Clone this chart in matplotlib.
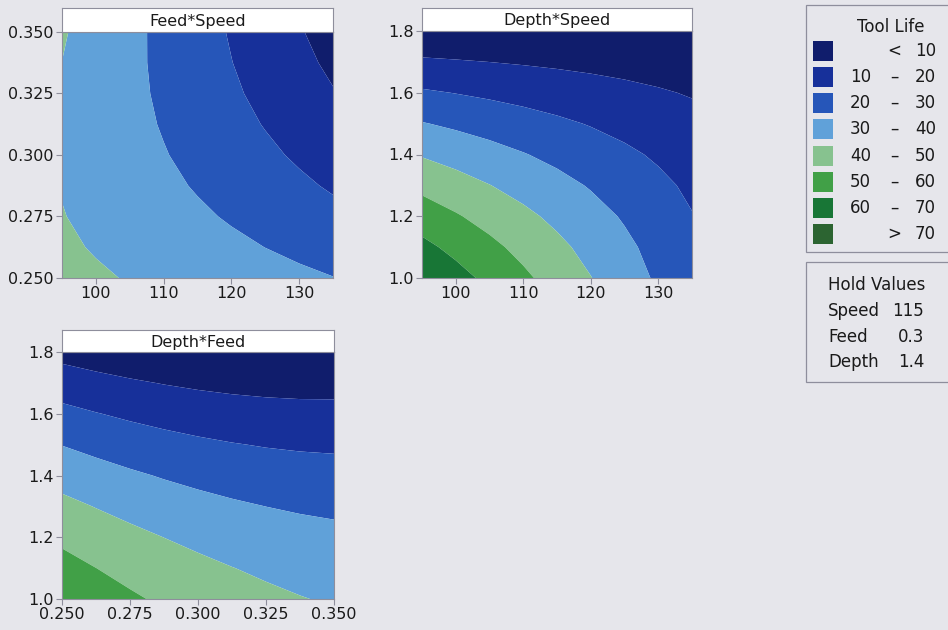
import matplotlib
matplotlib.use("Agg")
import matplotlib.pyplot as plt
from matplotlib.patches import Rectangle

plt.rcParams['font.family'] = ['DejaVu Sans']

# ---------------- data ----------------
speed = [95, 100, 105, 110, 115, 120, 125, 130, 135]
feed = [0.250, 0.2625, 0.275, 0.2875, 0.300, 0.3125, 0.325, 0.3375, 0.350]
depth = [1.0, 1.1, 1.2, 1.3, 1.4, 1.5, 1.6, 1.7, 1.8]

# Tool Life, rows = feed, columns = speed (Depth held at 1.4)
life_feed_speed = [
    [42.60, 41.05, 39.50, 37.95, 36.40, 34.85, 33.30, 31.75, 30.20],
    [41.30, 39.41, 37.52, 35.62, 33.73, 31.83, 29.94, 28.05, 26.15],
    [40.31, 38.08, 35.84, 33.60, 31.36, 29.13, 26.89, 24.65, 22.41],
    [39.63, 37.05, 34.47, 31.88, 29.30, 26.72, 24.14, 21.56, 18.98],
    [39.25, 36.33, 33.40, 30.48, 27.55, 24.63, 21.70, 18.78, 15.85],
    [39.18, 35.91, 32.64, 29.37, 26.10, 22.83, 19.57, 16.30, 13.03],
    [39.41, 35.80, 32.19, 28.57, 24.96, 21.35, 17.74, 14.12, 10.51],
    [39.95, 36.00, 32.04, 28.08, 24.13, 20.17, 16.22, 12.26, 8.30],
    [40.80, 36.50, 32.20, 27.90, 23.60, 19.30, 15.00, 10.70, 6.40],
]

# Tool Life, rows = depth, columns = speed (Feed held at 0.3)
life_depth_speed = [
    [69.25, 63.45, 57.65, 51.85, 46.05, 40.25, 34.45, 28.65, 22.85],
    [62.50, 57.42, 52.34, 47.26, 42.18, 37.09, 32.01, 26.93, 21.85],
    [55.25, 50.89, 46.53, 42.16, 37.80, 33.44, 29.08, 24.71, 20.35],
    [47.50, 43.86, 40.21, 36.57, 32.93, 29.28, 25.64, 21.99, 18.35],
    [39.25, 36.33, 33.40, 30.48, 27.55, 24.63, 21.70, 18.78, 15.85],
    [30.50, 28.29, 26.09, 23.88, 21.68, 19.47, 17.26, 15.06, 12.85],
    [21.25, 19.76, 18.28, 16.79, 15.30, 13.81, 12.33, 10.84, 9.35],
    [11.50, 10.73, 9.96, 9.19, 8.43, 7.66, 6.89, 6.12, 5.35],
    [1.25, 1.20, 1.15, 1.10, 1.05, 1.00, 0.95, 0.90, 0.85],
]

# Tool Life, rows = depth, columns = feed (Speed held at 115)
life_depth_feed = [
    [57.90, 54.48, 51.36, 48.55, 46.05, 43.85, 41.96, 40.38, 39.10],
    [53.28, 50.04, 47.11, 44.49, 42.18, 40.17, 38.46, 37.07, 35.98],
    [48.15, 45.10, 42.36, 39.93, 37.80, 35.98, 34.46, 33.25, 32.35],
    [42.53, 39.67, 37.11, 34.87, 32.93, 31.29, 29.96, 28.94, 28.23],
    [36.40, 33.73, 31.36, 29.30, 27.55, 26.10, 24.96, 24.13, 23.60],
    [29.78, 27.29, 25.11, 23.24, 21.68, 20.42, 19.46, 18.82, 18.48],
    [22.65, 20.35, 18.36, 16.68, 15.30, 14.23, 13.46, 13.00, 12.85],
    [15.03, 12.92, 11.11, 9.62, 8.43, 7.54, 6.96, 6.69, 6.73],
    [6.90, 4.98, 3.36, 2.05, 1.05, 0.35, -0.04, -0.12, 0.10],
]

levels = [-1000, 10, 20, 30, 40, 50, 60, 70, 1000]
band_low = ["", "10", "20", "30", "40", "50", "60", ""]
band_sign = ["<", "\u2013", "\u2013", "\u2013", "\u2013", "\u2013", "\u2013", ">"]
band_high = ["10", "20", "30", "40", "50", "60", "70", "70"]
band_colors = ["#101d6c", "#17309a", "#2656b9", "#60a1d9",
               "#87c28f", "#41a047", "#187636", "#2c6431"]

hold_names = ["Speed", "Feed", "Depth"]
hold_values = ["115", "0.3", "1.4"]

speed_ticks = [100, 110, 120, 130]
feed_ticks = [0.250, 0.275, 0.300, 0.325, 0.350]
depth_ticks = [1.0, 1.2, 1.4, 1.6, 1.8]

# ---------------- figure ----------------
W, H = 948, 630
BG = "#e6e6eb"
EDGE = "#8e8e9c"
TXT = "#1a1a1a"
fig = plt.figure(figsize=(W / 100, H / 100), dpi=100, facecolor=BG)


def add_ax(l, t, r, b):
    return fig.add_axes([l / W, 1 - b / H, (r - l) / W, (b - t) / H])


def panel(l, t, r, b, strip_top, title, x, y, z, xticks, yticks, xfmt, yfmt):
    ax = add_ax(l, t, r, b)
    ax.contourf(x, y, z, levels=levels, colors=band_colors, antialiased=True)
    ax.set_xlim(x[0], x[-1])
    ax.set_ylim(y[0], y[-1])
    ax.set_xticks(xticks)
    ax.set_yticks(yticks)
    ax.set_xticklabels([xfmt.format(v) for v in xticks])
    ax.set_yticklabels([yfmt.format(v) for v in yticks])
    ax.tick_params(direction="out", length=4, width=0.8, color=EDGE,
                   labelsize=11.5, labelcolor=TXT, pad=2)
    for sp in ax.spines.values():
        sp.set_color(EDGE)
        sp.set_linewidth(0.8)
    st = add_ax(l, strip_top, r, t)
    st.set_facecolor("white")
    st.set_xticks([])
    st.set_yticks([])
    for sp in st.spines.values():
        sp.set_color(EDGE)
        sp.set_linewidth(0.8)
    st.text(0.5, 0.45, title, ha="center", va="center", fontsize=11.5,
            color=TXT, transform=st.transAxes)
    return ax


panel(62, 32, 333, 278, 8, "Feed*Speed", speed, feed, life_feed_speed,
      speed_ticks, feed_ticks, "{:d}", "{:.3f}")
panel(422, 31, 692, 278, 8, "Depth*Speed", speed, depth, life_depth_speed,
      speed_ticks, depth_ticks, "{:d}", "{:.1f}")
panel(62, 352, 334, 599, 330, "Depth*Feed", feed, depth, life_depth_feed,
      feed_ticks, depth_ticks, "{:.3f}", "{:.1f}")


def fx(x):
    return x / W


def fy(y):
    return 1 - y / H


LFS = 12
# legend box
fig.add_artist(Rectangle((fx(806), fy(252)), fx(960) - fx(806), fy(5) - fy(252),
                         transform=fig.transFigure, facecolor=BG, edgecolor=EDGE,
                         linewidth=0.9))
fig.text(fx(891), fy(27), "Tool Life", ha="center", va="center", fontsize=LFS,
         color=TXT)
row_y = [51, 77, 103, 129, 156, 182, 208, 234]
for i in range(len(band_colors)):
    yy = row_y[i]
    fig.add_artist(Rectangle((fx(813), fy(yy + 10)), fx(20), fy(0) - fy(20),
                             transform=fig.transFigure,
                             facecolor=band_colors[i], edgecolor="none"))
    if band_low[i]:
        fig.text(fx(871), fy(yy), band_low[i], ha="right", va="center",
                 fontsize=LFS, color=TXT)
    fig.text(fx(894), fy(yy), band_sign[i], ha="center", va="center",
             fontsize=LFS, color=TXT)
    fig.text(fx(936), fy(yy), band_high[i], ha="right", va="center",
             fontsize=LFS, color=TXT)

# hold values box
fig.add_artist(Rectangle((fx(806), fy(382)), fx(960) - fx(806), fy(262) - fy(382),
                         transform=fig.transFigure, facecolor=BG, edgecolor=EDGE,
                         linewidth=0.9))
fig.text(fx(828), fy(285), "Hold Values", ha="left", va="center",
         fontsize=LFS, color=TXT)
hold_y = [311, 337, 362]
for name, val, yy in zip(hold_names, hold_values, hold_y):
    fig.text(fx(828), fy(yy), name, ha="left", va="center", fontsize=LFS,
             color=TXT)
    fig.text(fx(924), fy(yy), val, ha="right", va="center", fontsize=LFS,
             color=TXT)

fig.savefig("out.png", dpi=100, facecolor=BG)
